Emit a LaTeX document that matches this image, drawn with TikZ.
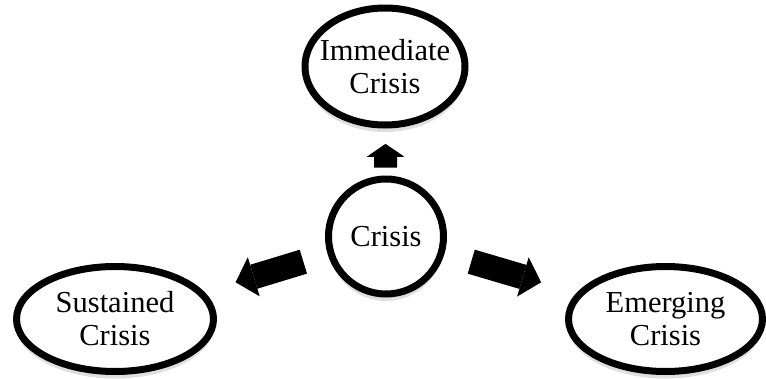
\documentclass[tikz,border=0pt]{standalone}
\usepackage{fontspec}
\setmainfont{Liberation Serif}
\usetikzlibrary{arrows.meta,calc,shadows,shapes.geometric}

\begin{document}
\begin{tikzpicture}[x=1pt,y=1pt,
			bubble/.style={draw,line width=7pt,fill=white,ellipse,inner sep=-20pt,
				align=center,font=\fontsize{30.5}{33}\selectfont,
				drop shadow={shadow xshift=0pt,shadow yshift=-7pt,opacity=0.25}},
			bigarrow/.style={line width=25pt,-{Triangle[length=19pt,width=41pt,line width=0pt]}}
			]
			\useasboundingbox (0,0) rectangle (766,-378);
			\node[bubble,circle,minimum size=115pt] (crisis) at (386,-236.5) {Crisis};
			\node[bubble,minimum width=160pt,minimum height=117pt] (immediate) at (385,-66.5) {Immediate\\Crisis};
			\node[bubble,minimum width=197pt,minimum height=105pt] (sustained) at (115,-319) {Sustained\\Crisis};
			\node[bubble,minimum width=194pt,minimum height=105pt] (emerging) at (665.5,-319) {Emerging\\Crisis};
			\draw [bigarrow,line width=23pt,-{Triangle[length=13pt,width=38pt,line width=0pt]}]
				($(crisis)!0.405!(immediate)$) -- ($(crisis)!0.545!(immediate)$);
			\draw [bigarrow] ($(crisis)!0.305!(sustained)$) -- ($(crisis)!0.555!(sustained)$);
			\draw [bigarrow] ($(crisis)!0.305!(emerging)$) -- ($(crisis)!0.555!(emerging)$);
	\end{tikzpicture}
\end{document}
